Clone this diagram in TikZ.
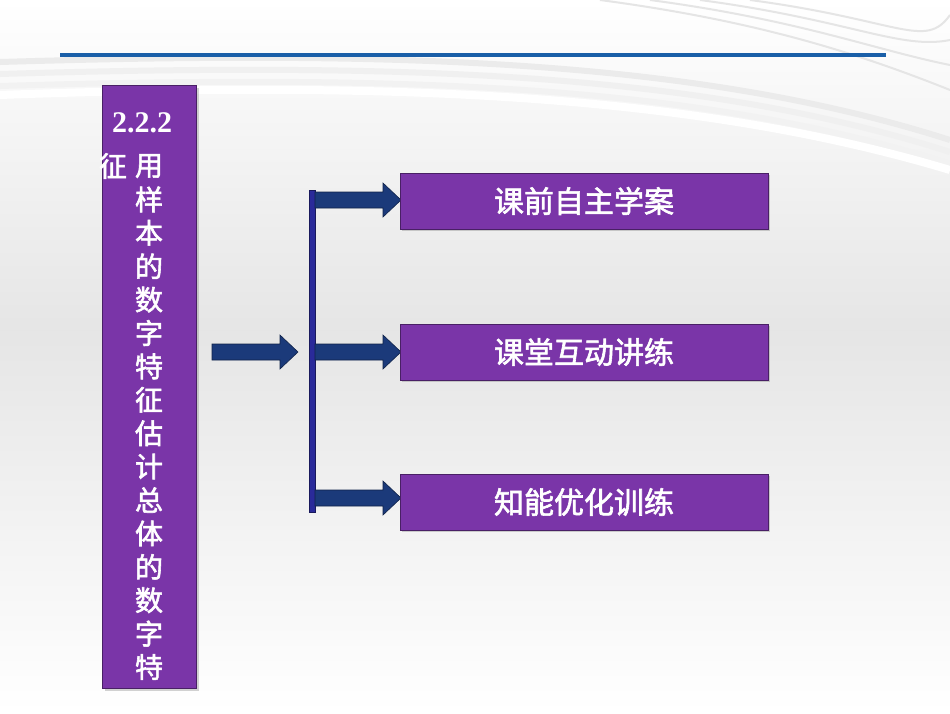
\documentclass[tikz,border=0pt]{standalone}
\usepackage{fontspec}
\newfontfamily\cjk[FakeBold=2]{Noto Sans CJK SC}
\setmainfont{Liberation Serif}
\usetikzlibrary{shadows}
\definecolor{pur}{HTML}{7A35A8}
\definecolor{navy}{HTML}{1B3A7A}
\definecolor{bar}{HTML}{2A2A9A}
\begin{document}
\begin{tikzpicture}[x=1pt,y=-1pt,
  pbox/.style={draw=pur!60!black,fill=pur,line width=0.8pt,drop shadow={opacity=0.35}},
  arrf/.style={fill=navy,draw=navy!60!black,line width=0.6pt},
  lab/.style={font=\cjk\fontsize{30}{30}\selectfont,text=white},
  labl/.style={font=\cjk\fontsize{28}{28}\selectfont,text=white}]
\shade[top color=white,bottom color=black!10] (0,0) rectangle (950,330);
\shade[top color=black!10,bottom color=white] (0,330) rectangle (950,713);
\useasboundingbox (0,0) rectangle (950,713);
% swooshes
\foreach \o/\c in {0/black!8,12/black!6,24/black!5}{
  \draw[\c,line width=6pt] (0,62+\o) .. controls (400,50+\o) and (700,60+\o) .. (950,140+\o);}
\foreach \s in {0,25,50,75}{
  \draw[black!10,line width=2pt] (600+\s*2,0) .. controls (750+\s*2,20) and (850+\s,50) .. (950,90-\s);}
\draw[white,line width=8pt] (0,95) .. controls (400,80) and (700,95) .. (950,170);
\draw[color={rgb,255:red,26;green,95;blue,168},line width=3.5pt] (60,55) -- (886,55);
% left box
\node[pbox,minimum width=94pt,minimum height=603pt,anchor=north west,inner sep=0pt] (L) at (102,85) {};
\node[text=white,font=\bfseries\fontsize{30}{30}\selectfont] (num) at (142,123) {2.2.2};
\node[labl] (z0) at (113,166) {征};
\foreach \ch [count=\i from 0] in {用,样,本,的,数,字,特,征,估,计,总,体,的,数,字,特}{
  \node[labl] (c\i) at (149,166+\i*33.4) {\ch};}
% bracket
\fill[bar,draw=bar!60!black] (309,190) rectangle (315,512);
% arrows
\foreach \x/\y/\n in {212/352/a0,315/200/a1,315/352/a2,315/498/a3}{
  \coordinate (\n) at (\x,\y);
  \filldraw[arrf] (\n) ++(0,-8) -- ++(68,0) -- ++(0,-9) -- ++(18,17) -- ++(-18,17) -- ++(0,-9) -- ++(-68,0) -- cycle;}
% boxes
\node[pbox,minimum width=368pt,minimum height=56pt,lab,inner sep=0pt] (b1) at (584,201) {课前自主学案};
\node[pbox,minimum width=368pt,minimum height=56pt,lab,inner sep=0pt] (b2) at (584,352) {课堂互动讲练};
\node[pbox,minimum width=368pt,minimum height=56pt,lab,inner sep=0pt] (b3) at (584,502) {知能优化训练};
\end{tikzpicture}
\end{document}
